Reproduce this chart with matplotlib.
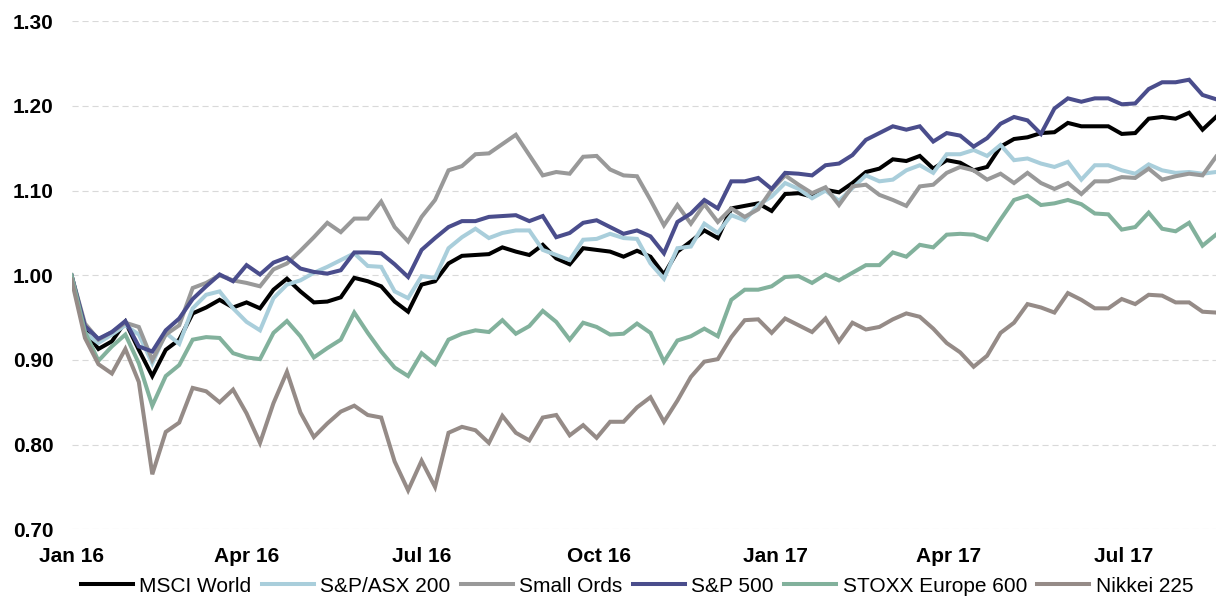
import numpy as np
import pandas as pd
import matplotlib
matplotlib.use("Agg")
import matplotlib.pyplot as plt

plt.rcParams['font.family'] = ['Liberation Sans', 'DejaVu Sans']

# weekly observations, rebased to 1.00 at the start of Jan 2016
dates = pd.date_range('2016-01-01', periods=86, freq='7D')

msci_world = [
    1.000, 0.935, 0.913, 0.922, 0.945, 0.912, 0.881, 0.912, 0.924, 0.955,
    0.962, 0.971, 0.962, 0.968, 0.961, 0.983, 0.996, 0.981, 0.968, 0.969,
    0.974, 0.997, 0.993, 0.987, 0.969, 0.957, 0.989, 0.993, 1.014, 1.023,
    1.024, 1.025, 1.033, 1.028, 1.024, 1.036, 1.020, 1.013, 1.032, 1.030,
    1.028, 1.022, 1.029, 1.022, 1.001, 1.028, 1.040, 1.053, 1.044, 1.079,
    1.082, 1.085, 1.076, 1.096, 1.097, 1.093, 1.101, 1.098, 1.109, 1.122,
    1.126, 1.137, 1.135, 1.141, 1.126, 1.136, 1.133, 1.124, 1.128, 1.152,
    1.161, 1.163, 1.168, 1.169, 1.180, 1.176, 1.176, 1.176, 1.167, 1.168,
    1.185, 1.187, 1.185, 1.192, 1.172, 1.187,
]
asx_200 = [
    1.000, 0.932, 0.920, 0.930, 0.941, 0.930, 0.896, 0.932, 0.919, 0.961,
    0.977, 0.981, 0.961, 0.945, 0.935, 0.973, 0.989, 0.994, 1.003, 1.010,
    1.018, 1.026, 1.011, 1.010, 0.981, 0.973, 0.999, 0.997, 1.032, 1.045,
    1.055, 1.044, 1.050, 1.053, 1.053, 1.030, 1.024, 1.018, 1.042, 1.043,
    1.049, 1.044, 1.043, 1.014, 0.996, 1.032, 1.034, 1.061, 1.050, 1.071,
    1.065, 1.083, 1.093, 1.109, 1.102, 1.091, 1.100, 1.088, 1.103, 1.118,
    1.111, 1.113, 1.124, 1.130, 1.121, 1.143, 1.143, 1.148, 1.141, 1.154,
    1.136, 1.138, 1.132, 1.128, 1.134, 1.113, 1.130, 1.130, 1.124, 1.120,
    1.131, 1.124, 1.121, 1.122, 1.120, 1.122,
]
small_ords = [
    1.000, 0.943, 0.924, 0.933, 0.944, 0.939, 0.900, 0.930, 0.941, 0.985,
    0.991, 1.000, 0.994, 0.991, 0.987, 1.007, 1.014, 1.029, 1.045, 1.062,
    1.051, 1.067, 1.067, 1.087, 1.057, 1.040, 1.069, 1.089, 1.124, 1.129,
    1.143, 1.144, 1.155, 1.166, 1.142, 1.118, 1.122, 1.120, 1.140, 1.141,
    1.125, 1.118, 1.117, 1.089, 1.059, 1.083, 1.061, 1.084, 1.063, 1.079,
    1.069, 1.078, 1.101, 1.118, 1.107, 1.097, 1.104, 1.083, 1.105, 1.107,
    1.095, 1.089, 1.082, 1.105, 1.107, 1.121, 1.128, 1.124, 1.113, 1.120,
    1.109, 1.121, 1.109, 1.102, 1.109, 1.096, 1.111, 1.111, 1.116, 1.115,
    1.126, 1.113, 1.117, 1.120, 1.118, 1.140,
]
sp_500 = [
    1.000, 0.940, 0.925, 0.933, 0.946, 0.916, 0.910, 0.935, 0.949, 0.972,
    0.987, 1.001, 0.993, 1.012, 1.001, 1.015, 1.021, 1.008, 1.004, 1.002,
    1.006, 1.027, 1.027, 1.026, 1.013, 0.998, 1.030, 1.044, 1.057, 1.064,
    1.064, 1.069, 1.070, 1.071, 1.064, 1.070, 1.045, 1.050, 1.062, 1.065,
    1.057, 1.049, 1.053, 1.046, 1.026, 1.063, 1.073, 1.089, 1.079, 1.111,
    1.111, 1.115, 1.102, 1.121, 1.120, 1.118, 1.130, 1.132, 1.142, 1.160,
    1.168, 1.176, 1.172, 1.176, 1.158, 1.168, 1.165, 1.152, 1.162, 1.179,
    1.187, 1.183, 1.167, 1.197, 1.209, 1.205, 1.209, 1.209, 1.202, 1.203,
    1.220, 1.228, 1.228, 1.231, 1.213, 1.208,
]
stoxx_600 = [
    1.000, 0.933, 0.899, 0.916, 0.930, 0.896, 0.846, 0.881, 0.894, 0.924,
    0.927, 0.926, 0.908, 0.903, 0.901, 0.932, 0.946, 0.928, 0.903, 0.914,
    0.924, 0.956, 0.932, 0.910, 0.891, 0.881, 0.908, 0.895, 0.924, 0.931,
    0.935, 0.933, 0.947, 0.931, 0.940, 0.958, 0.945, 0.924, 0.944, 0.939,
    0.930, 0.931, 0.943, 0.932, 0.898, 0.923, 0.928, 0.937, 0.928, 0.971,
    0.983, 0.983, 0.987, 0.998, 0.999, 0.991, 1.001, 0.994, 1.003, 1.012,
    1.012, 1.027, 1.022, 1.036, 1.033, 1.048, 1.049, 1.048, 1.042, 1.066,
    1.089, 1.094, 1.083, 1.085, 1.089, 1.084, 1.073, 1.072, 1.054, 1.057,
    1.074, 1.055, 1.052, 1.062, 1.035, 1.048,
]
nikkei_225 = [
    0.995, 0.926, 0.895, 0.884, 0.913, 0.874, 0.765, 0.815, 0.826, 0.867,
    0.863, 0.850, 0.865, 0.837, 0.802, 0.849, 0.886, 0.838, 0.809, 0.825,
    0.839, 0.846, 0.835, 0.832, 0.780, 0.746, 0.781, 0.750, 0.814, 0.821,
    0.817, 0.802, 0.834, 0.814, 0.805, 0.832, 0.835, 0.811, 0.823, 0.808,
    0.827, 0.827, 0.844, 0.856, 0.827, 0.852, 0.880, 0.898, 0.901, 0.927,
    0.947, 0.948, 0.932, 0.949, 0.941, 0.933, 0.949, 0.922, 0.944, 0.936,
    0.939, 0.948, 0.955, 0.951, 0.937, 0.920, 0.909, 0.892, 0.905, 0.932,
    0.944, 0.966, 0.962, 0.956, 0.979, 0.971, 0.961, 0.961, 0.972, 0.966,
    0.977, 0.976, 0.968, 0.968, 0.957, 0.956,
]

series_names = ['MSCI World', 'S&P/ASX 200', 'Small Ords', 'S&P 500',
                'STOXX Europe 600', 'Nikkei 225']
series_colors = ['#000000', '#a9cedb', '#999999', '#4a4d8c', '#82b19c', '#958b87']

tick_dates = pd.to_datetime(['2016-01-01', '2016-04-01', '2016-07-01', '2016-10-01',
                             '2017-01-01', '2017-04-01', '2017-07-01'])
tick_labels = ['Jan 16', 'Apr 16', 'Jul 16', 'Oct 16', 'Jan 17', 'Apr 17', 'Jul 17']
y_ticks = [0.70, 0.80, 0.90, 1.00, 1.10, 1.20, 1.30]

fig = plt.figure(figsize=(12.16, 5.97), dpi=100)
ax = fig.add_axes([0.0588, 0.1134, 0.9412, 0.8509])

all_series = [msci_world, asx_200, small_ords, sp_500, stoxx_600, nikkei_225]
for vals, name, col in zip(all_series, series_names, series_colors):
    ax.plot(dates, vals, color=col, lw=2.9, label=name, solid_joinstyle='miter')

ax.set_xlim(dates[0], dates[-1])
ax.set_ylim(0.70, 1.30)
ax.set_yticks(y_ticks)
ax.set_yticklabels(['%.2f' % v for v in y_ticks])
ax.set_xticks(tick_dates)
ax.set_xticklabels(tick_labels)

for lab in ax.get_xticklabels() + ax.get_yticklabels():
    lab.set_fontweight('bold')
    lab.set_fontsize(15)
ax.tick_params(axis='both', length=0)
ax.tick_params(axis='y', pad=13)
ax.tick_params(axis='x', pad=12.5)

ax.grid(axis='y', color='#d9d9d9', lw=0.8, linestyle=(0, (5.5, 3.5)))
ax.set_axisbelow(True)
for s in ax.spines.values():
    s.set_visible(False)

fig.legend(loc='center', bbox_to_anchor=(0.524, 0.018), ncol=6, frameon=False,
           fontsize=15, handlelength=2.5, handletextpad=0.3, columnspacing=0.5,
           borderaxespad=0)

fig.savefig('out.png', dpi=100)
